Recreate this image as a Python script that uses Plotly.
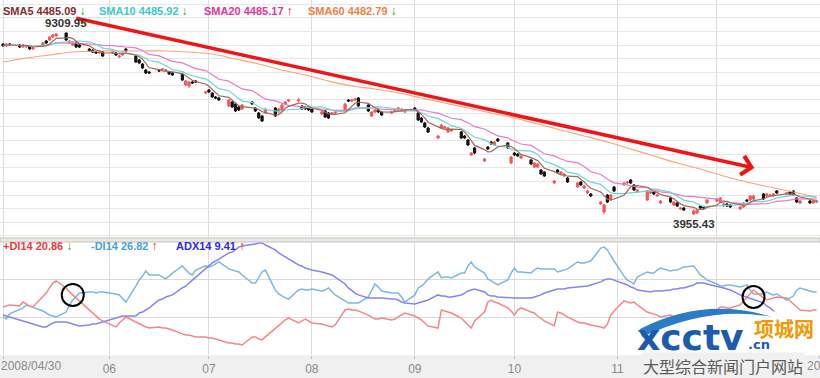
import pandas as pd
import plotly.graph_objects as go

# ---------------- data ----------------
dates = pd.bdate_range("2008-04-30", "2008-12-31")

opens = [8972, 8913, 8972, 8943, 8884, 8884, 8913, 8825, 8913, 9060,
         9089, 9177, 9207, 9295, 9001, 8943, 9001, 8943, 8825, 8796,
         8737, 8708, 8737, 8708, 8708, 8591, 8649, 8825, 8620, 8503,
         8385, 8209, 8151, 8209, 8209, 8180, 8151, 8121, 8092, 7769,
         7740, 7857, 7887, 7534, 7622, 7534, 7417, 7388, 7153, 7270,
         7212, 7124, 7065, 7270, 7094, 6948, 6860, 6948, 7094, 6977,
         7036, 7212, 7300, 7300, 7153, 7124, 7124, 7094, 6918, 7006,
         6948, 6918, 6948, 7006, 7329, 7300, 7329, 7388, 7182, 6860,
         6977, 7036, 6977, 6948, 7006, 7036, 7006, 6977, 7094, 6948,
         6801, 6654, 6507, 6214, 6507, 6507, 6390, 6419, 6390, 6273,
         6155, 5715, 5921, 5539, 5950, 6097, 6009, 6185, 6067, 5481,
         5774, 5745, 5627, 5569, 5363, 5363, 5275, 5216, 4894, 5275,
         5158, 5099, 5040, 4776, 4923, 4747, 4600, 4571, 4278, 4043,
         4542, 4395, 4776, 4835, 4894, 4982, 4835, 4630, 4395, 4600,
         4630, 4512, 4307, 4454, 4248, 4307, 4131, 4160, 3984, 4014,
         4219, 4190, 4307, 4366, 4336, 4219, 4278, 4248, 4131, 4190,
         4395, 4395, 4424, 4571, 4512, 4512, 4512, 4659, 4571, 4630,
         4659, 4454, 4307, 4366, 4307, 4336]

highs = [9001, 9001, 9001, 8972, 8972, 8943, 8943, 8884, 9031, 9089,
         9207, 9265, 9295, 9309.95, 9089, 9031, 9031, 8972, 8855, 8825,
         8767, 8767, 8767, 8767, 8737, 8649, 8767, 8855, 8649, 8532,
         8415, 8239, 8180, 8239, 8268, 8239, 8180, 8151, 8121, 7916,
         7887, 7887, 7916, 7593, 7652, 7564, 7446, 7417, 7358, 7300,
         7241, 7153, 7212, 7300, 7124, 6977, 6889, 7094, 7124, 7094,
         7212, 7300, 7358, 7388, 7182, 7153, 7153, 7124, 7006, 7036,
         6977, 6977, 7006, 7241, 7358, 7358, 7388, 7417, 7212, 7006,
         7065, 7065, 7006, 7006, 7065, 7124, 7094, 7065, 7124, 6977,
         6830, 6684, 6537, 6302, 6625, 6566, 6537, 6478, 6419, 6302,
         6185, 5803, 5950, 5627, 5979, 6126, 6126, 6214, 6097, 5686,
         5803, 5774, 5715, 5598, 5510, 5481, 5305, 5246, 4982, 5305,
         5246, 5187, 5070, 4923, 4952, 4835, 4688, 4600, 4366, 4278,
         4571, 4571, 4806, 4923, 4952, 5011, 4864, 4718, 4688, 4659,
         4659, 4571, 4395, 4483, 4366, 4336, 4190, 4190, 4131, 4131,
         4248, 4219, 4424, 4454, 4483, 4307, 4307, 4278, 4219, 4336,
         4424, 4542, 4542, 4600, 4600, 4571, 4600, 4688, 4630, 4659,
         4688, 4483, 4395, 4395, 4395, 4395]

lows = [8884, 8884, 8913, 8855, 8855, 8855, 8796, 8796, 8884, 8972,
        9060, 9148, 9177, 9060, 8972, 8913, 8855, 8855, 8737, 8708,
        8679, 8679, 8591, 8679, 8620, 8561, 8620, 8737, 8415, 8385,
        8239, 8092, 8092, 8151, 8180, 8151, 8063, 8033, 7887, 7740,
        7681, 7798, 7828, 7505, 7534, 7388, 7358, 7300, 7124, 7094,
        6977, 7006, 7036, 7182, 6977, 6772, 6684, 6918, 6830, 6948,
        7006, 7182, 7270, 7270, 7036, 7036, 7006, 6948, 6889, 6801,
        6772, 6889, 6918, 6977, 7270, 7270, 7300, 7124, 6977, 6830,
        6948, 6948, 6860, 6918, 6977, 7006, 6977, 6948, 7006, 6713,
        6654, 6507, 6361, 6185, 6478, 6478, 6361, 6390, 6185, 6185,
        5979, 5686, 5745, 5510, 5862, 6009, 5979, 6097, 5891, 5451,
        5686, 5657, 5598, 5422, 5334, 5334, 5128, 5070, 4864, 5187,
        5128, 5070, 4894, 4747, 4806, 4718, 4571, 4483, 4248, 3984,
        4307, 4366, 4630, 4806, 4864, 4864, 4659, 4600, 4366, 4571,
        4542, 4483, 4278, 4307, 4219, 4190, 4102, 4072, 3955.43, 3984,
        4131, 4131, 4278, 4336, 4307, 4190, 4190, 4160, 4102, 4160,
        4336, 4366, 4395, 4395, 4483, 4483, 4483, 4571, 4542, 4542,
        4512, 4307, 4278, 4278, 4278, 4307]

closes = [8913, 8972, 8943, 8884, 8943, 8913, 8825, 8855, 9001, 9001,
          9177, 9236, 9265, 9089, 9060, 9001, 8884, 8884, 8767, 8737,
          8708, 8737, 8620, 8737, 8649, 8620, 8737, 8767, 8444, 8415,
          8268, 8121, 8121, 8180, 8239, 8209, 8092, 8063, 7916, 7887,
          7857, 7828, 7857, 7564, 7564, 7417, 7388, 7329, 7329, 7124,
          7006, 7036, 7182, 7212, 7006, 6801, 6713, 7065, 6860, 7065,
          7182, 7270, 7329, 7329, 7065, 7065, 7036, 6977, 6977, 6830,
          6801, 6948, 6977, 7212, 7300, 7329, 7358, 7153, 7006, 6977,
          7036, 6977, 6889, 6977, 7036, 7094, 7065, 7036, 7036, 6742,
          6684, 6537, 6390, 6273, 6596, 6537, 6507, 6449, 6214, 6214,
          6009, 5774, 5774, 5598, 5891, 6038, 6097, 6126, 5921, 5657,
          5715, 5686, 5686, 5451, 5481, 5451, 5158, 5099, 4952, 5216,
          5216, 5158, 4923, 4894, 4835, 4806, 4659, 4512, 4336, 4248,
          4336, 4542, 4659, 4894, 4923, 4894, 4688, 4688, 4659, 4630,
          4571, 4542, 4366, 4336, 4336, 4219, 4160, 4102, 4072, 4102,
          4160, 4160, 4395, 4424, 4454, 4278, 4219, 4190, 4190, 4307,
          4366, 4512, 4512, 4424, 4571, 4542, 4571, 4600, 4600, 4571,
          4542, 4336, 4366, 4307, 4366, 4366]

# SMA60 (every 5th trading day)
sma60_weekly = [8444, 8561, 8649, 8737, 8767, 8767, 8767, 8767, 8737, 8679,
                8532, 8385, 8209, 8063, 7887, 7740, 7652, 7534, 7388, 7241,
                7094, 6948, 6801, 6625, 6449, 6273, 6097, 5891, 5686, 5481,
                5305, 5099, 4923, 4776, 4630, 4482.79]

di_plus = [25.5, 26.0, 26.6, 26.0, 28.1, 27.1, 26.0, 25.5, 31.3, 32.9,
           35.6, 38.2, 39.3, 35.6, 33.5, 31.9, 30.3, 29.2, 23.9, 22.3,
           20.7, 19.1, 18.1, 15.9, 14.9, 17.0, 18.6, 20.2, 17.5, 16.5,
           15.9, 14.9, 14.3, 14.9, 14.3, 14.3, 13.8, 13.3, 11.2, 10.6,
           10.6, 10.1, 9.6, 9.6, 9.0, 9.0, 8.5, 8.0, 6.4, 6.4,
           5.8, 5.8, 5.3, 9.6, 9.6, 8.5, 8.0, 9.6, 14.3, 15.9,
           17.5, 18.6, 19.6, 17.0, 18.1, 19.1, 18.1, 17.0, 16.5, 15.9,
           15.4, 14.9, 15.9, 23.9, 24.4, 23.9, 23.9, 23.4, 21.2, 20.2,
           19.1, 19.1, 19.6, 18.6, 19.1, 20.2, 21.2, 22.3, 20.7, 19.6,
           18.6, 17.0, 15.4, 14.3, 23.9, 23.4, 22.8, 22.3, 19.6, 17.5,
           15.9, 14.3, 18.1, 22.8, 28.1, 29.2, 28.1, 27.6, 25.0, 23.4,
           21.2, 23.9, 25.0, 22.8, 22.3, 20.7, 19.6, 18.1, 15.4, 22.8,
           22.3, 21.2, 20.2, 17.5, 17.0, 17.0, 16.5, 15.9, 14.9, 14.3,
           16.5, 21.2, 23.4, 28.7, 28.1, 27.6, 28.1, 26.6, 22.8, 22.3,
           21.7, 21.2, 20.2, 21.2, 20.2, 19.6, 19.1, 18.6, 17.5, 17.5,
           18.6, 19.1, 19.6, 23.9, 25.5, 25.5, 25.0, 25.0, 26.6, 28.7,
           30.8, 32.9, 34.5, 30.3, 29.2, 29.7, 30.3, 30.8, 30.3, 28.7,
           27.1, 25.5, 23.9, 23.4, 23.9, 23.9]

di_minus = [20.2, 19.1, 21.8, 23.9, 25.0, 26.6, 26.0, 25.5, 23.4, 22.3,
            21.2, 20.7, 20.2, 22.8, 26.6, 29.2, 30.8, 32.9, 33.5, 33.5,
            32.9, 33.5, 33.5, 32.9, 32.4, 31.9, 29.7, 28.1, 36.6, 39.8,
            41.9, 44.6, 42.5, 42.5, 41.4, 40.4, 41.9, 43.5, 47.3, 45.1,
            43.5, 42.5, 45.1, 47.3, 46.7, 47.3, 48.3, 49.4, 45.7, 45.1,
            44.6, 44.1, 42.5, 38.2, 38.2, 41.4, 44.1, 45.1, 34.5, 32.4,
            31.3, 30.3, 29.7, 34.5, 35.0, 34.5, 34.5, 35.0, 34.0, 34.5,
            35.6, 33.5, 31.9, 28.7, 27.6, 27.6, 27.6, 27.6, 30.8, 34.5,
            37.7, 36.1, 34.0, 32.9, 32.9, 32.9, 30.8, 28.1, 31.9, 35.6,
            36.6, 38.2, 40.4, 44.1, 40.9, 41.4, 41.4, 40.9, 43.5, 43.5,
            47.3, 49.4, 46.7, 43.5, 40.4, 39.3, 38.2, 37.2, 39.8, 43.5,
            46.2, 44.1, 44.1, 43.5, 45.1, 46.2, 45.7, 45.7, 45.7, 44.1,
            44.6, 45.1, 45.7, 49.4, 48.9, 48.9, 49.4, 49.9, 56.8, 57.3,
            55.8, 52.6, 49.9, 41.9, 39.8, 38.8, 37.7, 41.4, 44.1, 43.5,
            43.5, 45.1, 46.2, 44.6, 45.1, 45.1, 45.7, 46.7, 47.3, 44.6,
            42.5, 41.4, 39.8, 37.7, 36.6, 36.6, 37.2, 37.2, 36.1, 36.6,
            37.2, 34.5, 32.4, 32.4, 33.5, 32.4, 31.9, 32.4, 29.2, 30.3,
            31.3, 34.5, 35.6, 34.0, 33.5, 33.5]

adx = [21.2, 20.7, 20.2, 18.6, 18.1, 17.5, 17.0, 16.5, 14.9, 14.9,
       15.9, 17.0, 17.5, 17.5, 17.0, 16.5, 15.9, 15.4, 15.9, 16.5,
       16.5, 17.0, 17.5, 19.1, 19.6, 20.2, 20.7, 20.7, 20.7, 22.3,
       22.8, 23.9, 25.0, 29.2, 29.7, 30.8, 31.3, 31.9, 35.6, 36.6,
       38.2, 39.8, 41.4, 46.2, 47.8, 48.9, 49.9, 51.0, 54.2, 54.7,
       55.8, 57.3, 57.9, 58.4, 58.9, 59.5, 59.5, 58.4, 55.8, 54.2,
       53.1, 52.0, 51.0, 47.8, 47.3, 46.2, 45.7, 45.1, 44.1, 43.5,
       43.0, 42.5, 41.4, 37.7, 35.6, 34.0, 32.9, 31.9, 30.3, 30.3,
       30.3, 30.3, 30.3, 29.7, 29.7, 29.2, 28.1, 27.6, 27.1, 27.6,
       28.1, 28.7, 29.2, 31.9, 31.3, 31.3, 30.8, 30.8, 31.9, 32.9,
       34.0, 34.5, 35.0, 33.5, 31.9, 31.3, 31.3, 30.8, 30.3, 30.3,
       30.3, 30.3, 30.3, 30.3, 30.8, 31.3, 31.9, 32.9, 34.5, 35.0,
       35.0, 35.0, 35.6, 36.1, 36.1, 36.1, 36.6, 37.2, 38.8, 39.8,
       40.4, 40.4, 39.8, 38.2, 37.2, 36.1, 35.6, 34.5, 33.5, 33.5,
       34.0, 34.0, 34.0, 34.5, 35.0, 35.0, 35.6, 35.6, 37.2, 38.2,
       38.2, 38.2, 37.7, 36.6, 36.1, 35.6, 35.0, 34.5, 31.9, 31.3,
       30.8, 30.3, 29.7, 27.6, 25.9, 25.0, 23.4, 21.8, 18.6, 17.5,
       16.5, 15.4, 14.3, 12.2, 11.7, 11.2]

month_ticks = ["2008-04-30", "2008-06-01", "2008-07-01", "2008-08-01", "2008-09-01",
               "2008-10-01", "2008-11-01", "2008-12-01", "2009-01-01"]
month_labels = ["", "06", "07", "08", "09", "10", "11", "12", ""]

for name, arr in [("opens", opens), ("highs", highs), ("lows", lows), ("closes", closes),
                  ("di_plus", di_plus), ("di_minus", di_minus), ("adx", adx)]:
    assert len(arr) == len(dates), (name, len(arr), len(dates))

close_s = pd.Series(closes, index=dates)
sma5 = close_s.rolling(5, min_periods=1).mean()
sma10 = close_s.rolling(10, min_periods=1).mean()
sma20 = close_s.rolling(20, min_periods=1).mean()

# ---------------- figure ----------------
W, H, PH = 820, 378, 355


def pp(x, y):
    """pixel -> paper coordinates of the plot area"""
    return x / W, (PH - y) / PH


fig = go.Figure()

fig.add_trace(go.Scatter(x=dates[::5], y=sma60_weekly, mode="lines", line_shape="spline",
                         line=dict(color="#f6a47c", width=1.2), xaxis="x", yaxis="y"))
fig.add_trace(go.Scatter(x=dates, y=sma20, mode="lines", line=dict(color="#e67cc8", width=1.2),
                         xaxis="x", yaxis="y"))
fig.add_trace(go.Scatter(x=dates, y=sma10, mode="lines", line=dict(color="#6ad6d6", width=1.2),
                         xaxis="x", yaxis="y"))
fig.add_trace(go.Scatter(x=dates, y=sma5, mode="lines", line=dict(color="#a8665a", width=1.2),
                         xaxis="x", yaxis="y"))
fig.add_trace(go.Candlestick(
    x=dates, open=opens, high=highs, low=lows, close=closes,
    increasing=dict(line=dict(color="#f25858", width=1), fillcolor="#f25858"),
    decreasing=dict(line=dict(color="#111111", width=1), fillcolor="#111111"),
    whiskerwidth=0, xaxis="x", yaxis="y"))

fig.add_trace(go.Scatter(x=dates, y=di_minus, mode="lines", line=dict(color="#7cb6e2", width=1.5),
                         xaxis="x2", yaxis="y2"))
fig.add_trace(go.Scatter(x=dates, y=di_plus, mode="lines", line=dict(color="#f48686", width=1.5),
                         xaxis="x2", yaxis="y2"))
fig.add_trace(go.Scatter(x=dates, y=adx, mode="lines", line=dict(color="#8585f2", width=1.5),
                         xaxis="x2", yaxis="y2"))

xr = ["2008-04-29 02:00", "2009-01-01 00:30"]
top_bottom = (PH - 238) / PH
low_top = (PH - 242) / PH

fig.update_layout(
    width=W, height=H, margin=dict(l=0, r=0, t=0, b=H - PH),
    paper_bgcolor="white", plot_bgcolor="white", showlegend=False,
    boxgap=0.05,
    font=dict(family="Liberation Sans, Arial, sans-serif"),
    xaxis=dict(domain=[0, 1], anchor="y", range=xr, matches="x2", showticklabels=False,
               tickvals=month_ticks, showgrid=True, gridcolor="#dcdcdc", gridwidth=1,
               rangeslider=dict(visible=False), zeroline=False, ticks=""),
    xaxis2=dict(domain=[0, 1], anchor="y2", range=xr, tickvals=month_ticks, ticktext=month_labels,
                showgrid=True, gridcolor="#dcdcdc", ticks="outside", ticklen=3, tickcolor="#b8b8b8",
                tickfont=dict(size=12, color="#8a8a8a"), zeroline=False),
    yaxis=dict(domain=[top_bottom, 1], range=[3280, 10263], tick0=3340, dtick=400,
               showticklabels=False, gridcolor="#e6e6e6", zeroline=False),
    yaxis2=dict(domain=[0, low_top], range=[0, 60], dtick=20, showticklabels=False,
                gridcolor="#d9d9d9", zeroline=False),
)

shapes = []
# x-label band
shapes.append(dict(type="rect", xref="paper", yref="paper", x0=0, x1=1, y0=-(H - PH) / PH, y1=0,
                   fillcolor="#f0f0f0", line=dict(width=0), layer="below"))
# panel separator
shapes.append(dict(type="rect", xref="paper", yref="paper", x0=0, x1=1, y0=low_top, y1=top_bottom,
                   fillcolor="#ebe7e3", line=dict(color="#c9c2bb", width=1)))
# circles marking the DI crossings
for cx, cy in [("2008-05-21", 31.9), ("2008-12-12", 30.8)]:
    shapes.append(dict(type="circle", xref="x2", yref="y2", xsizemode="pixel", ysizemode="pixel",
                       xanchor=cx, yanchor=cy, x0=-11, x1=11, y0=-11, y1=11,
                       line=dict(color="black", width=2)))


def path(points, close=True):
    s = ""
    for cmd, pts in points:
        coords = " ".join("%.4f,%.4f" % pp(x, y) for x, y in pts)
        s += cmd + coords + " "
    return s + ("Z" if close else "")


# watermark cover + swoosh
shapes.append(dict(type="path", xref="paper", yref="paper",
                   path=path([("M", [(636, 355)]), ("L", [(636, 333)]), ("L", [(662, 322)]),
                              ("L", [(690, 315)]), ("L", [(720, 311)]), ("L", [(765, 311)]),
                              ("L", [(820, 314)]), ("L", [(820, 355)])]),
                   fillcolor="rgba(255,255,255,0.93)", line=dict(width=0)))
shapes.append(dict(type="path", xref="paper", yref="paper",
                   path=path([("M", [(640, 329)]), ("Q", [(705, 296), (772, 317)]),
                              ("Q", [(710, 305), (642, 337)])]),
                   fillcolor="#2b7cc6", line=dict(width=0)))
fig.update_layout(shapes=shapes)

ann = []
# red trend arrow
ann.append(dict(x="2008-12-12 06:00", y=5334, xref="x", yref="y",
                ax="2008-05-21 14:00", ay=9735, axref="x", ayref="y",
                text="", showarrow=True, arrowhead=4, arrowsize=1.05, arrowwidth=3.5,
                arrowcolor="#f01414"))
# extreme labels
ann.append(dict(x=dates[13], y=highs[13], xref="x", yref="y", text="<b>9309.95</b>",
                showarrow=False, yshift=9, font=dict(size=11.5, color="#333333")))
ann.append(dict(x=dates[148], y=lows[148], xref="x", yref="y", text="<b>3955.43</b>",
                showarrow=False, yshift=-9, font=dict(size=11.5, color="#333333")))

GREEN, RED = "#1f9a1f", "#ee1111"
legend_top = [(2, "SMA5 4485.09", "#8b2b2b", "↓", GREEN),
              (98, "SMA10 4485.92", "#3cc8cc", "↓", GREEN),
              (203, "SMA20 4485.17", "#e2359e", "↑", RED),
              (307, "SMA60 4482.79", "#f28040", "↓", GREEN)]
legend_low = [(2, "+DI14 20.86", "#f03a3a", "↓", GREEN),
              (90, "-DI14 26.82", "#4aa0d8", "↑", RED),
              (175, "ADX14 9.41", "#2a2aee", "↑", RED)]
for items, ypx in [(legend_top, 11), (legend_low, 246)]:
    for xpx, label, col, arr, acol in items:
        px_, py_ = pp(xpx, ypx)
        ann.append(dict(x=px_, y=py_, xref="paper", yref="paper", xanchor="left", yanchor="middle",
                        showarrow=False, borderpad=0,
                        text=f"<b><span style='color:{col}'>{label}</span> "
                             f"<span style='color:{acol};font-size:12px'>{arr}</span></b>",
                        font=dict(size=11, family="Liberation Sans, Arial, sans-serif")))

# first and last date labels (edge-aligned)
ann.append(dict(x=0, y=pp(0, 366)[1], xref="paper", yref="paper", xanchor="left", yanchor="middle",
                showarrow=False, text="2008/04/30", borderpad=0,
                font=dict(size=12, color="#8a8a8a")))
ann.append(dict(x=1.0, y=pp(0, 366)[1], xref="paper", yref="paper", xanchor="center", yanchor="middle",
                showarrow=False, text="2009", borderpad=0,
                font=dict(size=12, color="#8a8a8a")))

# watermark texts
x_, y_ = pp(636, 337)
ann.append(dict(x=x_, y=y_, xref="paper", yref="paper", xanchor="left", yanchor="middle",
                showarrow=False, text="<b>xcctv</b>", borderpad=0,
                font=dict(size=36, color="#1d5cab", family="DejaVu Sans, sans-serif")))
x_, y_ = pp(747, 344)
ann.append(dict(x=x_, y=y_, xref="paper", yref="paper", xanchor="left", yanchor="middle",
                showarrow=False, text="<b>.cn</b>", borderpad=0,
                font=dict(size=13, color="#1d5cab", family="DejaVu Sans, sans-serif")))
x_, y_ = pp(753, 328)
ann.append(dict(x=x_, y=y_, xref="paper", yref="paper", xanchor="left", yanchor="middle",
                showarrow=False, text="<b>项城网</b>", borderpad=0,
                font=dict(size=20, color="#f39800", family="Noto Sans CJK SC, sans-serif")))
x_, y_ = pp(641, 366)
ann.append(dict(x=x_, y=y_, xref="paper", yref="paper", xanchor="left", yanchor="middle",
                showarrow=False, text="大型综合新闻门户网站", borderpad=1, bgcolor="#f0f0f0",
                font=dict(size=16, color="#5a5a5a", family="Noto Sans CJK SC, sans-serif")))

fig.update_layout(annotations=ann)

fig.write_html("out.html", config={"displayModeBar": False},
               post_script="document.body.style.margin='0';document.body.style.overflow='hidden';")
